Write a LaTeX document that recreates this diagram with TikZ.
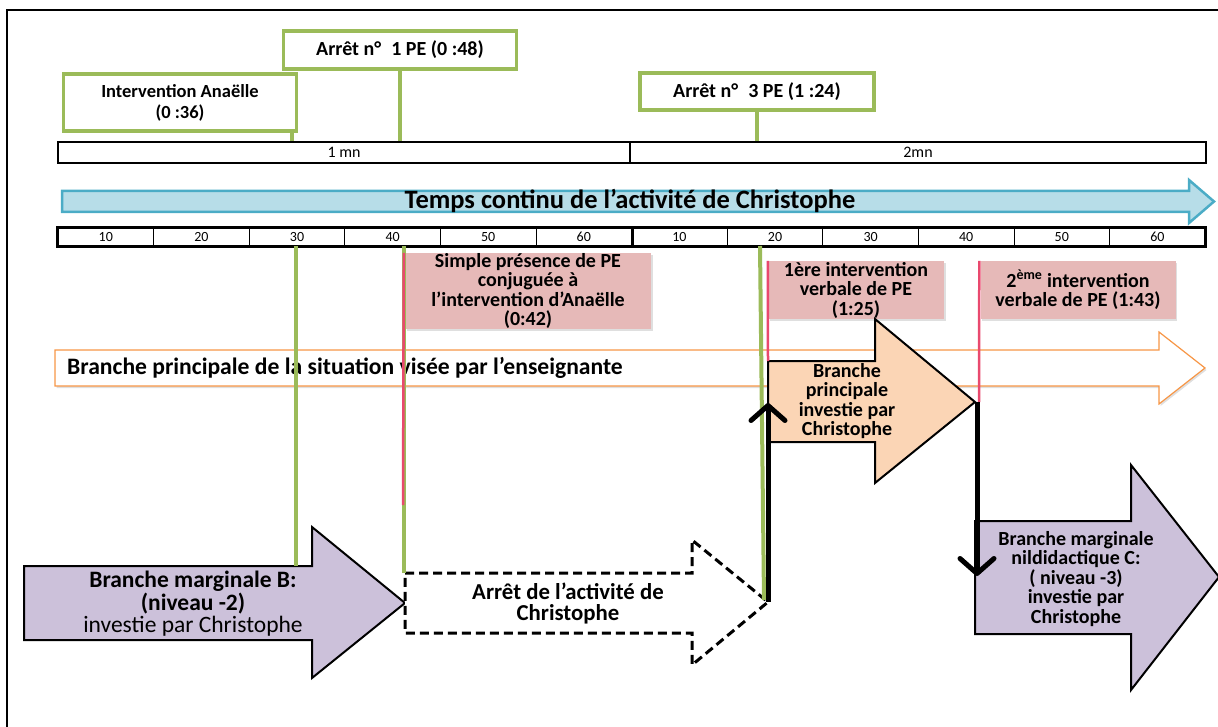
\documentclass[tikz,border=0pt]{standalone}
\usepackage{fontspec}
\setmainfont{Carlito}
\usetikzlibrary{arrows.meta,shadows}
\definecolor{stopgreen}{HTML}{9BBB59}
\definecolor{notepink}{HTML}{E6B9B8}
\definecolor{voicered}{HTML}{E9496E}
\definecolor{timefill}{HTML}{B7DDE8}
\definecolor{timeblue}{HTML}{4BACC6}
\definecolor{mainorange}{HTML}{F79646}
\definecolor{peach}{HTML}{FBD5B5}
\definecolor{lilac}{HTML}{CCC1DA}
\begin{document}
\begin{tikzpicture}[x=1pt,y=-1pt,
  every node/.style={align=center,inner sep=0pt},
  bold20/.style={font=\bfseries\fontsize{20}{19.5}\selectfont},
  softshadow/.style={drop shadow={shadow xshift=1.5pt,shadow yshift=-2pt,opacity=.25}},
  stopbox/.style={draw=stopgreen,line width=3.5pt,fill=white,bold20,softshadow},
  notebox/.style={fill=notepink,bold20,softshadow},
  minbar/.style={draw,line width=2.5pt,minimum height=21,font=\fontsize{16}{16}\selectfont},
  secbox/.style={draw,line width=1pt,minimum width=95.6,minimum height=18,font=\fontsize{14}{14}\selectfont},
  stopline/.style={stopgreen,line width=4pt},
  voiceline/.style={voicered,line width=2.5pt},
  branch/.style={draw,line width=2pt,line join=miter},
  jump/.style={line width=5pt,-{Straight Barb[length=15pt,width=34pt,round]}}]
  \useasboundingbox (0,0) rectangle (1218,727);
  \clip (0,0) rectangle (1218,727);
  \draw[line width=2.5pt] (7,10) rectangle (1240,760);

  % stops and interventions above the time line
  \node[stopbox,minimum width=233,minimum height=38] (stop1) at (400,50) {Arrêt n°\enspace 1 PE (0 :48)};
  \node[stopbox,minimum width=233,minimum height=57,font=\bfseries\fontsize{18.5}{21}\selectfont]
    (anaelle) at (180,102.5) {Intervention Anaëlle\\(0 :36)};
  \node[stopbox,minimum width=234,minimum height=37] (stop3) at (757,91.5) {Arrêt n°\enspace 3 PE (1 :24)};
  \node[minbar,minimum width=572] (mn1) at (344,152.5) {1 mn};
  \node[minbar,minimum width=576] (mn2) at (918,152.5) {2mn};
  \coordinate (anaelleout) at (292,133);
  \foreach \n in {stop1.south,stop3.south,anaelleout}
    \draw[stopline] (\n) -- (\n |- mn1.north);

  % continuous time of the activity
  \draw[draw=timeblue,fill=timefill,line width=2.5pt] (62,191) -- (1189,191) -- (1189,180)
    -- (1214,201.5) -- (1189,223) -- (1189,212) -- (62,212) -- cycle;
  \node[font=\bfseries\fontsize{26.5}{26.5}\selectfont] (temps) at (630,201) {Temps continu de l’activité de Christophe};
  \foreach \s [count=\i] in {10,20,30,40,50,60,10,20,30,40,50,60}
    \node[secbox] (sec\i) at ({58+95.6*(\i-0.5)},237) {\s};
  \draw[line width=3pt] (sec1.north west) rectangle (sec12.south east);
  \draw[line width=3pt] (sec6.north east) -- (sec6.south east);

  % main branch aimed by the teacher
  \draw[draw=mainorange,fill=white,line width=1.2pt,softshadow] (55,350) -- (1159,350) -- (1159,332)
    -- (1205,368) -- (1159,404) -- (1159,386) -- (55,386) -- cycle;
  \node[anchor=west,font=\bfseries\fontsize{23.6}{23.6}\selectfont] (visee) at (67,368)
    {Branche principale de la situation visée par l’enseignante};

  \node[notebox,minimum width=246,minimum height=76] (presence) at (528,291)
    {Simple présence de PE\\conjuguée à\\l’intervention d’Anaëlle\\(0:42)};
  \node[notebox,minimum width=176,minimum height=58] (verbal1) at (856,290)
    {1ère intervention\\verbale de PE\\(1:25)};
  \node[notebox,minimum width=195,minimum height=58] (verbal2) at (1078,290)
    {2\textsuperscript{ème} intervention\\verbale de PE (1:43)};

  % branches followed by Christophe
  \draw[branch,fill=peach] (768,361) -- (875,361) -- (875,319) -- (975,402) -- (875,483)
    -- (875,442) -- (768,442) -- cycle;
  \node[bold20] (invest) at (847,401) {Branche\\principale\\investie par\\Christophe};
  \draw[branch,fill=lilac] (24,566) -- (312,566) -- (312,527) -- (405,603) -- (312,678)
    -- (312,640) -- (24,640) -- cycle;
  \node[font=\bfseries\fontsize{23.5}{22.5}\selectfont] (margeB) at (193,604)
    {Branche marginale B:\\(niveau -2)\\\mdseries investie par Christophe};
  \draw[branch,dashed,dash pattern=on 9pt off 5pt,line width=3pt,fill=white] (405,573) -- (692,573)
    -- (692,540) -- (768,602) -- (692,665) -- (692,633) -- (405,633) -- cycle;
  \node[font=\bfseries\fontsize{22.8}{21}\selectfont] (arret) at (568,603) {Arrêt de l’activité de\\Christophe};
  \draw[branch,fill=lilac] (975,521) -- (1131,521) -- (1131,465) -- (1219,577) -- (1131,690)
    -- (1131,634) -- (975,634) -- cycle;
  \node[bold20] (margeC) at (1076,579)
    {Branche marginale\\nildidactique C:\\( niveau -3)\\investie par\\Christophe};

  % moments projected onto the branches
  \coordinate (intoB) at (296,566);
  \coordinate (intoD) at (404,573);
  \coordinate (dtip) at (768,602);
  \coordinate (ptip) at (977,402);
  \coordinate (pin) at (768,403);
  \coordinate (cin) at (977,576);
  \draw[stopline] (intoB |- sec3.south) -- (intoB);
  \draw[stopline] (intoD |- sec5.south) -- (intoD);
  \draw[stopline] (760,246) -- (764,600);
  \draw[voiceline] (presence.north west) ++(-1,0) -- (403,505);
  \draw[voiceline] (verbal1.north west) -- (768,361);
  \draw[voiceline] (verbal2.north west) ++(-1,0) -- (979,402);
  \draw[jump] (dtip) -- (pin);
  \draw[jump] (ptip) -- (cin);
\end{tikzpicture}
\end{document}
